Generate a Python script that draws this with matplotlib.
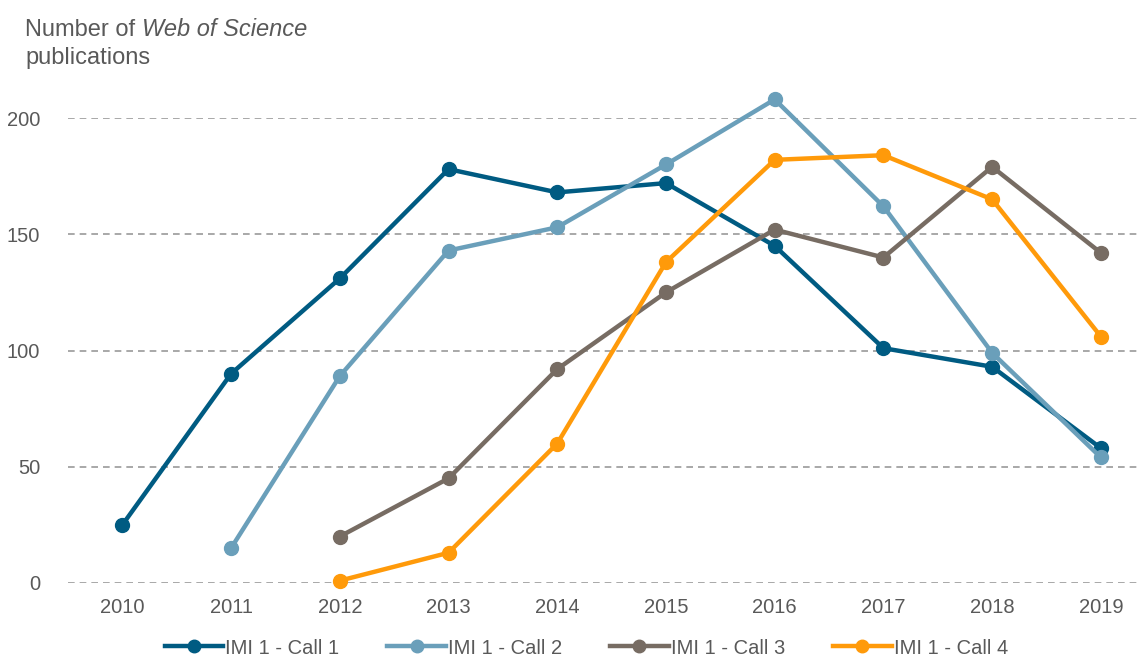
import matplotlib
matplotlib.use("Agg")
import matplotlib.pyplot as plt

plt.rcParams['font.family'] = ['Liberation Sans', 'DejaVu Sans']

# Datos
years = ['2010', '2011', '2012', '2013', '2014', '2015', '2016', '2017', '2018', '2019']
call1 = [25, 90, 131, 178, 168, 172, 145, 101, 93, 58]
call2 = [None, 15, 89, 143, 153, 180, 208, 162, 99, 54]
call3 = [None, None, 20, 45, 92, 125, 152, 140, 179, 142]
call4 = [None, None, 1, 13, 60, 138, 182, 184, 165, 106]
series_names = ['IMI 1 - Call 1', 'IMI 1 - Call 2', 'IMI 1 - Call 3', 'IMI 1 - Call 4']
colors = ['#005b82', '#6a9fba', '#776c63', '#ff9a0a']

fig = plt.figure(figsize=(11.45, 6.59), dpi=100)
ax = fig.add_axes([68 / 1145, 76 / 659, 1072 / 1145, 465 / 659])

text_col = '#595959'
for nombre, valores, col in zip(series_names, [call1, call2, call3, call4], colors):
    xs = [i for i, v in enumerate(valores) if v is not None]
    ys = [v for v in valores if v is not None]
    ax.plot(xs, ys, color=col, lw=3.2, marker='o', ms=10, label=nombre,
            clip_on=False, zorder=3)

ax.set_xlim(-0.5, 9.36)
ax.set_ylim(0, 200)
ax.set_yticks([0, 50, 100, 150, 200])
ax.set_xticks(range(len(years)))
ax.set_xticklabels(years)
ax.grid(axis='y', color='#9a9a9a', ls=(0, (4, 3)), lw=1.2)
ax.set_axisbelow(True)
for s in ax.spines.values():
    s.set_visible(False)
ax.tick_params(length=0, labelsize=14.5, colors=text_col, pad=11)
ax.tick_params(axis='y', pad=20)

# Titulo con parte en cursiva
t1 = fig.text(25 / 1145, 1 - 30 / 659, 'Number of ', fontsize=17, color=text_col, va='center')
fig.canvas.draw()
bb = t1.get_window_extent()
fig.text(bb.x1 / 1145, 1 - 30 / 659, 'Web of Science', fontsize=17, color=text_col,
         va='center', style='italic')
fig.text(25 / 1145, 1 - 58 / 659, 'publications', fontsize=17, color=text_col, va='center')

ax.legend(loc='center', bbox_to_anchor=(0.512, 1 - 648 / 659), bbox_transform=fig.transFigure,
          ncol=4, frameon=False, fontsize=14.5, handlelength=2.9, columnspacing=2.4,
          handletextpad=0.1, labelcolor=text_col, markerscale=0.9)

fig.savefig('out.png', dpi=100)
